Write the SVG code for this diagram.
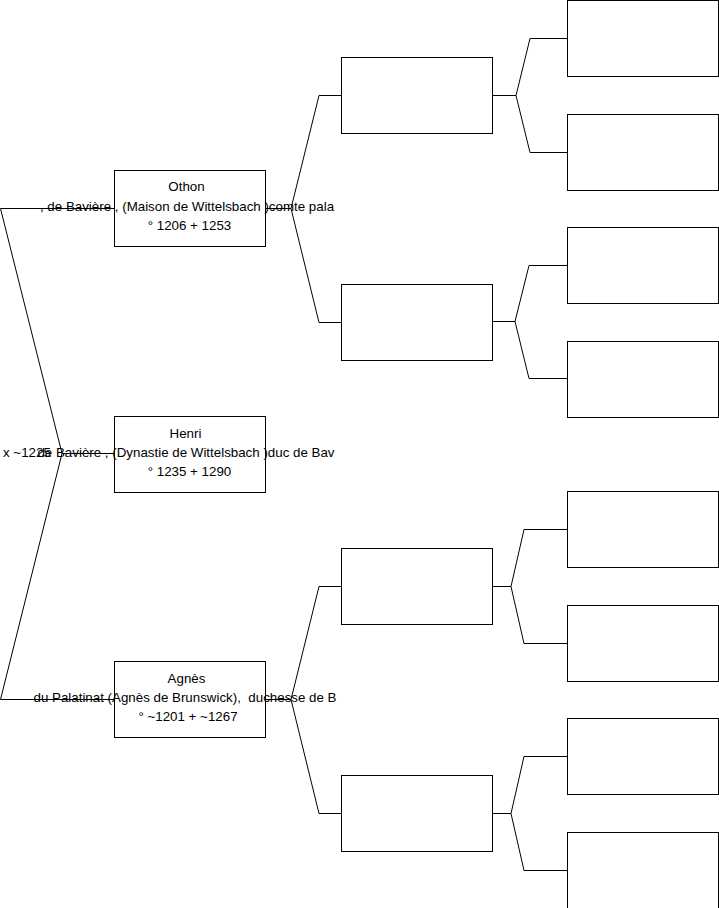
<svg xmlns="http://www.w3.org/2000/svg" width="719" height="908" viewBox="0 0 719 908">
<style>
.box{fill:#fff;stroke:#000;stroke-width:1}
.ln{fill:none;stroke:#000;stroke-width:1}
text{font-family:"Liberation Sans",Arial,sans-serif;font-size:13.33px;fill:#000}
.c{text-anchor:middle}
</style>
<rect width="719" height="908" fill="#fff"/>
<g id="connectors">
<path class="ln" d="M114,208.5 H0.5 L62,453.5 L0.5,699.5 H114 M62,453.5 H114"/>
<path class="ln" d="M265,208.5 H291 L319,95.5 H341 M291,208.5 L319,322.5 H341"/>
<path class="ln" d="M265,699.5 H291 L319,586.5 H341 M291,699.5 L319,813.5 H341"/>
<path class="ln" d="M492,95.5 H516 L530,38.5 H567 M516,95.5 L530,152.5 H567"/>
<path class="ln" d="M492,321.5 H515 L529,265.5 H567 M515,321.5 L529,378.5 H567"/>
<path class="ln" d="M492,586.5 H511 L524,529.5 H567 M511,586.5 L524,643.5 H567"/>
<path class="ln" d="M492,813.5 H511 L524,756.5 H567 M511,813.5 L524,870.5 H567"/>
</g>
<g id="n-othon-box"><rect class="box" x="114.5" y="170.5" width="151" height="76"/></g>
<g id="n-henri-box"><rect class="box" x="114.5" y="416.5" width="151" height="76"/></g>
<g id="n-agnes-box"><rect class="box" x="114.5" y="661.5" width="151" height="76"/></g>
<g id="n-l2-1"><rect class="box" x="341.5" y="57.5" width="151" height="76"/></g>
<g id="n-l2-2"><rect class="box" x="341.5" y="284.5" width="151" height="76"/></g>
<g id="n-l2-3"><rect class="box" x="341.5" y="548.5" width="151" height="76"/></g>
<g id="n-l2-4"><rect class="box" x="341.5" y="775.5" width="151" height="76"/></g>
<g id="n-l3-1"><rect class="box" x="567.5" y="0.5" width="151" height="76"/></g>
<g id="n-l3-2"><rect class="box" x="567.5" y="114.5" width="151" height="76"/></g>
<g id="n-l3-3"><rect class="box" x="567.5" y="227.5" width="151" height="76"/></g>
<g id="n-l3-4"><rect class="box" x="567.5" y="341.5" width="151" height="76"/></g>
<g id="n-l3-5"><rect class="box" x="567.5" y="491.5" width="151" height="76"/></g>
<g id="n-l3-6"><rect class="box" x="567.5" y="605.5" width="151" height="76"/></g>
<g id="n-l3-7"><rect class="box" x="567.5" y="718.5" width="151" height="76"/></g>
<g id="n-l3-8"><rect class="box" x="567.5" y="832.5" width="151" height="76"/></g>
<g id="n-othon">
<text class="c" x="186.5" y="191">Othon</text>
<text class="c" x="187" y="210.5">, de Bavière , (Maison de Wittelsbach )comte pala</text>
<text class="c" x="189.5" y="229.5">° 1206 + 1253</text>
</g>
<g id="n-henri">
<text class="c" x="185.5" y="437.5">Henri</text>
<text class="c" x="186" y="456.5">de Bavière , (Dynastie de Wittelsbach )duc de Bav</text>
<text class="c" x="189.5" y="475.5">° 1235 + 1290</text>
</g>
<g id="n-agnes">
<text class="c" x="186.5" y="682.5">Agnès</text>
<text class="c" x="185" y="702" xml:space="preserve">du Palatinat (Agnès de Brunswick),  duchesse de B</text>
<text class="c" x="188" y="721">° ~1201 + ~1267</text>
</g>
<g id="marriage-label"><text x="3" y="456.5">x ~1225</text></g>
</svg>
